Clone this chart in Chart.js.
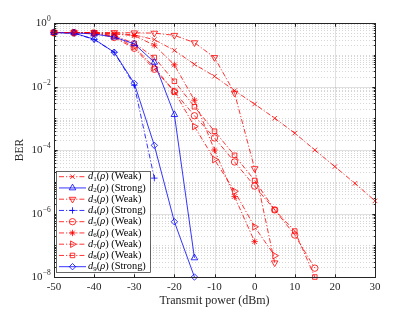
<!DOCTYPE html>
<html lang="en">
<head>
<meta charset="UTF-8">
<title>BER vs transmit power</title>
<style>
  html, body { margin: 0; padding: 0; background: #fff; }
  #wrap { width: 415px; height: 312px; }
</style>
</head>
<body>
<div id="wrap"><canvas id="ber"></canvas></div>
<script src="https://cdn.jsdelivr.net/npm/chart.js@4"></script>
<script>
// transmit power (dBm), every series starts at -50
const power = [-50, -45, -40, -35, -30, -25, -20, -15, -10, -5, 0, 5, 10, 15, 20, 25, 30];

// BER values
const d1 = [0.5, 0.5, 0.49, 0.47, 0.42, 0.3, 0.137, 0.05, 0.021, 7.4e-3, 2.8e-3, 1e-3, 3.4e-4, 1e-4, 3e-5, 8.9e-6, 2.5e-6];
const d2 = [0.5, 0.49, 0.45, 0.36, 0.22, 0.058, 1.3e-3, 4e-8];
const d3 = [0.5, 0.5, 0.5, 0.5, 0.49, 0.48, 0.41, 0.24, 0.082, 6.2e-3, 2.6e-5, 2.8e-8];
const d4 = [0.5, 0.48, 0.3, 0.12, 0.011, 1.3e-5];
const d5 = [0.5, 0.5, 0.48, 0.35, 0.16, 0.035, 6.9e-3, 1.2e-3, 2.4e-4, 4.2e-5, 7.3e-6, 1.3e-6, 2.1e-7, 1.9e-8];
const d6 = [0.5, 0.5, 0.49, 0.45, 0.4, 0.2, 0.048, 3.7e-3, 1e-4, 3.4e-6, 1.3e-7];
const d7 = [0.5, 0.5, 0.48, 0.38, 0.18, 0.04, 7e-3, 5.5e-4, 5e-5, 5e-6, 3.8e-7, 4.7e-8];
const d8 = [0.5, 0.5, 0.49, 0.4, 0.23, 0.082, 0.0146, 2.3e-3, 3.9e-4, 6.8e-5, 1.1e-5, 1.3e-6, 2.8e-7, 1e-8];
const d9 = [0.5, 0.48, 0.31, 0.12, 0.0126, 1.4e-4, 5.5e-7, 1e-8];

const regimes = ['Weak', 'Strong', 'Weak', 'Strong', 'Weak', 'Weak', 'Weak', 'Weak', 'Strong'];
const xTicks = [-50, -40, -30, -20, -10, 0, 10, 20, 30];
const yTickExp = [0, -2, -4, -6, -8];

const RED = 'rgb(255,0,0)';
const BLUE = 'rgb(0,0,255)';
const DASHDOT = [5, 2, 1.2, 2];
const SERIF = '"Liberation Serif", "DejaVu Serif", serif';

const series = [d1, d2, d3, d4, d5, d6, d7, d8, d9];
const looks = [
  { color: RED,  dash: DASHDOT, style: 'crossRot', rot: 0 },
  { color: BLUE, dash: [],      style: 'triangle', rot: 0 },
  { color: RED,  dash: DASHDOT, style: 'triangle', rot: 180 },
  { color: BLUE, dash: DASHDOT, style: 'cross',    rot: 0 },
  { color: RED,  dash: DASHDOT, style: 'circle',   rot: 0 },
  { color: RED,  dash: DASHDOT, style: 'star',     rot: 0 },
  { color: RED,  dash: DASHDOT, style: 'triangle', rot: 90 },
  { color: RED,  dash: DASHDOT, style: 'rect',     rot: 0 },
  { color: BLUE, dash: [],      style: 'rectRot',  rot: 0 }
];
const subs = ['₁', '₂', '₃', '₄', '₅', '₆', '₇', '₈', '₉'];

const datasets = series.map((vals, k) => ({
  label: 'd' + subs[k] + '(ρ) (' + regimes[k] + ')',
  data: vals.map((v, i) => ({ x: power[i], y: v })),
  borderColor: looks[k].color,
  borderWidth: 0.8,
  borderDash: looks[k].dash,
  pointStyle: looks[k].style,
  pointRotation: looks[k].rot,
  pointRadius: looks[k].style === 'triangle' ? 3.8 : 3.2,
  pointBorderWidth: 0.8,
  pointBorderColor: looks[k].color,
  pointBackgroundColor: 'rgba(0,0,0,0)',
  fill: false,
  tension: 0,
  clip: 6
}));

// grid, box, ticks, y labels and legend in the MATLAB look
const frame = {
  id: 'frame',
  beforeDatasetsDraw(chart) {
    const { ctx, chartArea: a, scales: { x, y } } = chart;
    ctx.save();
    // minor log grid
    ctx.strokeStyle = 'rgba(0,0,0,0.16)';
    ctx.lineWidth = 1;
    ctx.setLineDash([1, 2]);
    for (let e = -8; e < 0; e++) {
      for (let m = 1; m < 10; m++) {
        if (m === 1 && e % 2 === 0) continue;
        const py = Math.round(y.getPixelForValue(m * Math.pow(10, e))) + 0.5;
        ctx.beginPath(); ctx.moveTo(a.left, py); ctx.lineTo(a.right, py); ctx.stroke();
      }
    }
    // major grid
    ctx.setLineDash([]);
    ctx.strokeStyle = 'rgba(38,38,38,0.14)';
    xTicks.forEach(t => {
      const px = Math.round(x.getPixelForValue(t)) + 0.5;
      ctx.beginPath(); ctx.moveTo(px, a.top); ctx.lineTo(px, a.bottom); ctx.stroke();
    });
    yTickExp.forEach(e => {
      const py = Math.round(y.getPixelForValue(Math.pow(10, e))) + 0.5;
      ctx.beginPath(); ctx.moveTo(a.left, py); ctx.lineTo(a.right, py); ctx.stroke();
    });
    ctx.restore();
  },
  afterDraw(chart) {
    const { ctx, chartArea: a, scales: { x, y } } = chart;
    ctx.save();
    ctx.strokeStyle = '#262626';
    ctx.lineWidth = 1;
    ctx.setLineDash([]);
    const L = Math.round(a.left) + 0.5, R = Math.round(a.right) + 0.5;
    const T = Math.round(a.top) + 0.5, B = Math.round(a.bottom) + 0.5;
    ctx.strokeRect(L, T, R - L, B - T);
    ctx.beginPath();
    xTicks.forEach(t => {
      const px = Math.round(x.getPixelForValue(t)) + 0.5;
      ctx.moveTo(px, B); ctx.lineTo(px, B - 3.2);
      ctx.moveTo(px, T); ctx.lineTo(px, T + 3.2);
    });
    for (let e = -8; e <= 0; e++) {
      for (let m = 1; m < 10; m++) {
        if (e === 0 && m > 1) break;
        const py = Math.round(y.getPixelForValue(m * Math.pow(10, e))) + 0.5;
        const len = (m === 1 && e % 2 === 0) ? 3.2 : 1.8;
        ctx.moveTo(L, py); ctx.lineTo(L + len, py);
        ctx.moveTo(R, py); ctx.lineTo(R - len, py);
      }
    }
    ctx.stroke();

    // y tick labels 10^e
    ctx.fillStyle = '#262626';
    ctx.textBaseline = 'middle';
    ctx.textAlign = 'left';
    yTickExp.forEach(e => {
      const py = y.getPixelForValue(Math.pow(10, e));
      const base = '10', sup = e === 0 ? '0' : '\u2212' + (-e);
      ctx.font = '11px ' + SERIF;
      const wb = ctx.measureText(base).width;
      ctx.font = '7.5px ' + SERIF;
      const ws = ctx.measureText(sup).width;
      const x0 = L - 4 - wb - ws;
      ctx.font = '11px ' + SERIF;
      ctx.fillText(base, x0, py + 0.5);
      ctx.font = '7.5px ' + SERIF;
      ctx.fillText(sup, x0 + wb + 0.3, py - 3.8);
    });

    // legend
    const bx = 56, by = 171, bw = 94, bh = 101;
    ctx.fillStyle = '#fff';
    ctx.fillRect(bx, by, bw, bh);
    ctx.lineWidth = 0.7;
    ctx.strokeStyle = '#262626';
    ctx.strokeRect(bx + 0.5, by + 0.5, bw, bh);
    const draw = Chart.helpers && Chart.helpers.drawPoint;
    datasets.forEach((ds, k) => {
      const ly = 176.7 + k * 11.25;
      ctx.strokeStyle = ds.borderColor;
      ctx.lineWidth = 0.8;
      ctx.setLineDash(ds.borderDash);
      ctx.beginPath(); ctx.moveTo(59, ly); ctx.lineTo(86, ly); ctx.stroke();
      ctx.setLineDash([]);
      ctx.fillStyle = 'rgba(0,0,0,0)';
      if (draw) {
        draw(ctx, { pointStyle: ds.pointStyle, rotation: ds.pointRotation, radius: ds.pointRadius, borderWidth: 0.8 }, 72.5, ly);
      }
      // label text: d_k(ρ) (Regime)
      ctx.fillStyle = '#000';
      ctx.textBaseline = 'middle';
      let tx = 88;
      const put = (s, font, dy) => { ctx.font = font; ctx.fillText(s, tx, ly + dy); tx += ctx.measureText(s).width; };
      put('d', 'italic 10.4px ' + SERIF, 0);
      put(String(k + 1), '7px ' + SERIF, 2);
      put('(', '10.4px ' + SERIF, 0);
      put('ρ', 'italic 10.4px ' + SERIF, 0);
      put(') (' + regimes[k] + ')', '10.4px ' + SERIF, 0);
    });
    ctx.restore();
  }
};

new Chart(document.getElementById('ber'), {
  type: 'line',
  data: { datasets },
  options: {
    responsive: true,
    maintainAspectRatio: false,
    animation: false,
    devicePixelRatio: 1,
    layout: { padding: { left: 0, right: 40, top: 23, bottom: 0 } },
    plugins: { legend: { display: false }, tooltip: { enabled: false } },
    scales: {
      x: {
        type: 'linear',
        min: -50, max: 30,
        grid: { display: false, drawTicks: false },
        border: { display: false },
        ticks: { stepSize: 10, padding: 3.5, color: '#262626', font: { family: SERIF, size: 11 } },
        title: { display: true, text: 'Transmit power (dBm)', color: '#262626',
                 font: { family: SERIF, size: 12 }, padding: { top: 0, bottom: 3.8 } },
        afterFit(s) { s.height = 35; }
      },
      y: {
        type: 'logarithmic',
        min: 1e-8, max: 1,
        grid: { display: false, drawTicks: false },
        border: { display: false },
        ticks: { display: false },
        afterBuildTicks(s) { s.ticks = yTickExp.map(e => ({ value: Math.pow(10, e) })); },
        title: { display: true, text: 'BER', color: '#262626',
                 font: { family: SERIF, size: 11.5 }, padding: { top: 13, bottom: 0 } },
        afterFit(s) { s.width = 54; }
      }
    }
  },
  plugins: [frame]
});
</script>
</body>
</html>
